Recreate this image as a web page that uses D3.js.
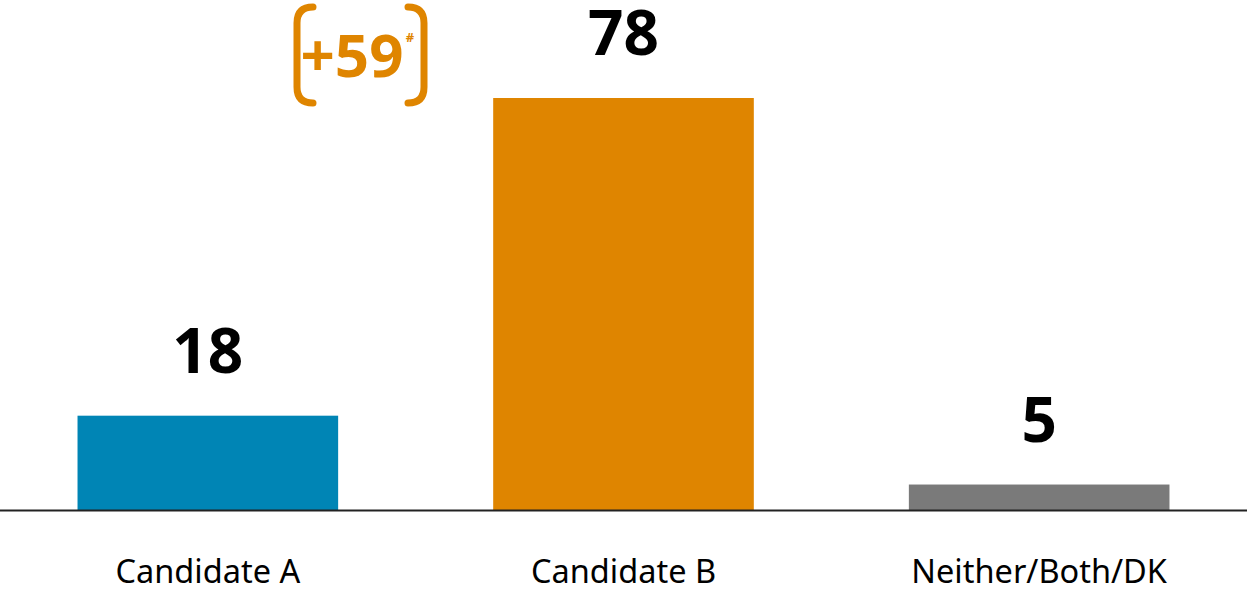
<!DOCTYPE html>
<html>
<head>
<meta charset="utf-8">
<script src="https://cdn.jsdelivr.net/npm/d3@7"></script>
<style>
    body { margin: 0; background: #fff; }
    svg { display: block; }
</style>
</head>
<body>
<div class="Canvas"></div>
<script>
let categories = ['Candidate A', 'Candidate B', 'Neither/Both/DK'];
let values = [18, 78, 5];
let colors = ['#0085b5', '#df8500', '#7a7a7a'];
let lead = '+59';
let leadMark = '#';

let width = 1247;
let height = 590;
let baseline = 511;
let font = "'Noto Sans', 'Open Sans', sans-serif";

let svg = d3.select('.Canvas').append('svg').attr('width', width).attr('height', height);

let x = d3.scaleBand().domain(categories).range([0, width]).paddingInner(0.373).paddingOuter(0.1865);
let y = d3.scaleLinear().domain([0, 78]).range([baseline, 98]);

svg.selectAll('rect.bar')
    .data(values)
    .enter()
    .append('rect')
    .attr('class', 'bar')
    .attr('x', (d, i) => x(categories[i]))
    .attr('y', (d) => y(d))
    .attr('width', x.bandwidth())
    .attr('height', (d) => y(0) - y(d))
    .attr('fill', (d, i) => colors[i]);

// baseline
svg.append('line')
    .attr('x1', 0)
    .attr('x2', width)
    .attr('y1', baseline - 0.5)
    .attr('y2', baseline - 0.5)
    .attr('stroke', '#222')
    .attr('stroke-width', 2);

// value labels
svg.selectAll('text.value')
    .data(values)
    .enter()
    .append('text')
    .attr('class', 'value')
    .attr('x', (d, i) => x(categories[i]) + x.bandwidth() / 2)
    .attr('y', (d) => y(d) - 43)
    .attr('text-anchor', 'middle')
    .attr('font-family', font)
    .attr('font-weight', 'bold')
    .attr('font-size', '62px')
    .attr('fill', '#000')
    .text((d) => d);

// category labels
svg.selectAll('text.cat')
    .data(categories)
    .enter()
    .append('text')
    .attr('class', 'cat')
    .attr('x', (d) => x(d) + x.bandwidth() / 2)
    .attr('y', 583)
    .attr('text-anchor', 'middle')
    .attr('font-family', font)
    .attr('font-size', '32.5px')
    .attr('fill', '#000')
    .text((d) => d);

// lead annotation with brackets
let orange = colors[1];
let ann = svg.append('g').attr('class', 'lead');
let bLeft = 297, bRight = 424, bTop = 7, bBottom = 103, r = 16;

let lp = d3.path();
lp.moveTo(bLeft + r, bTop);
lp.quadraticCurveTo(bLeft, bTop, bLeft, bTop + r);
lp.lineTo(bLeft, bBottom - r);
lp.quadraticCurveTo(bLeft, bBottom, bLeft + r, bBottom);
let rp = d3.path();
rp.moveTo(bRight - r, bTop);
rp.quadraticCurveTo(bRight, bTop, bRight, bTop + r);
rp.lineTo(bRight, bBottom - r);
rp.quadraticCurveTo(bRight, bBottom, bRight - r, bBottom);

ann.selectAll('path')
    .data([lp, rp])
    .enter()
    .append('path')
    .attr('d', (d) => d.toString())
    .attr('fill', 'none')
    .attr('stroke', orange)
    .attr('stroke-width', 7)
    .attr('stroke-linecap', 'round');

ann.append('text')
    .attr('x', 352)
    .attr('y', 77)
    .attr('text-anchor', 'middle')
    .attr('font-family', font)
    .attr('font-weight', 'bold')
    .attr('font-size', '60px')
    .attr('fill', orange)
    .text(lead);

ann.append('text')
    .attr('x', 410)
    .attr('y', 42)
    .attr('text-anchor', 'middle')
    .attr('font-family', font)
    .attr('font-weight', 'bold')
    .attr('font-size', '13px')
    .attr('fill', orange)
    .text(leadMark);
</script>
</body>
</html>
